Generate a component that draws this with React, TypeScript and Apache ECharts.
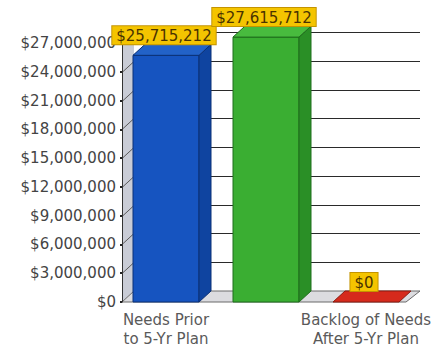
import React, { useEffect, useRef } from 'react';
import * as echarts from 'echarts';

const categories = ['Needs Prior\nto 5-Yr Plan', '', 'Backlog of Needs\nAfter 5-Yr Plan'];
const values = [25715212, 27615712, 0];
const yTicks = [0, 3000000, 6000000, 9000000, 12000000, 15000000, 18000000, 21000000, 24000000, 27000000];

const frontColors = ['#1654c0', '#3aae32', '#d62a1c'];
const topColors = ['#2262c8', '#48bb3e', '#d62a1c'];
const sideColors = ['#0f44a0', '#2a8f26', '#b0200f'];
const edgeColors = ['#0b3076', '#1f6e1c', '#8a1a10'];

const DX = 12;
const DY = -11;
const FONT = '"DejaVu Sans", Verdana, sans-serif';

const fmt = (v: number) => '$' + String(Math.round(v)).replace(/\B(?=(\d{3})+(?!\d))/g, ',');

export default function App() {
  const ref = useRef<HTMLDivElement>(null);
  useEffect(() => {
    if (!ref.current) return;
    const chart = echarts.init(ref.current, undefined, { renderer: 'svg' });

    const renderFrame = (params: any, api: any) => {
      const cs = params.coordSys;
      const left = cs.x + 6;
      const bottom = cs.y + cs.height;
      const right = cs.x + cs.width - 10;
      const topY = api.coord([0, yTicks[yTicks.length - 1]])[1];
      const children: any[] = [];
      children.push({
        type: 'polygon',
        shape: { points: [[left, bottom], [left + DX, bottom + DY], [left + DX, topY + DY], [left, topY]] },
        style: { fill: '#c9ccd6' },
      });
      children.push({
        type: 'polygon',
        shape: { points: [[left, bottom], [left + DX, bottom + DY], [right + DX + 2, bottom + DY], [right, bottom]] },
        style: { fill: '#dcdce0', stroke: '#6a6a6a', lineWidth: 1 },
      });
      yTicks.forEach((v) => {
        if (v === 0) return;
        const y = Math.round(api.coord([0, v])[1]) + 0.5;
        children.push({
          type: 'line',
          shape: { x1: left + DX, y1: y + DY, x2: right + DX + 2, y2: y + DY },
          style: { stroke: '#2a2a2a', lineWidth: 1 },
        });
        children.push({
          type: 'line',
          shape: { x1: left, y1: y, x2: left + DX, y2: y + DY },
          style: { stroke: '#5a5a5a', lineWidth: 1 },
        });
      });
      return { type: 'group', children };
    };

    const renderBar = (params: any, api: any) => {
      const i = params.dataIndex;
      const cat = api.value(0);
      const val = api.value(1);
      const [cx, yTop] = api.coord([cat, val]);
      const yBase = api.coord([cat, 0])[1];
      const half = 33;
      const x1 = cx - half;
      const x2 = cx + half;
      const children: any[] = [];
      if (yBase - yTop > 0.5) {
        children.push({
          type: 'rect',
          shape: { x: x1, y: yTop, width: x2 - x1, height: yBase - yTop },
          style: { fill: frontColors[i], stroke: edgeColors[i], lineWidth: 1 },
        });
        children.push({
          type: 'polygon',
          shape: { points: [[x2, yTop], [x2 + DX, yTop + DY], [x2 + DX, yBase + DY], [x2, yBase]] },
          style: { fill: sideColors[i], stroke: edgeColors[i], lineWidth: 1 },
        });
      }
      children.push({
        type: 'polygon',
        shape: { points: [[x1, yTop], [x1 + DX, yTop + DY], [x2 + DX, yTop + DY], [x2, yTop]] },
        style: { fill: topColors[i], stroke: edgeColors[i], lineWidth: 1 },
      });
      children.push({
        type: 'text',
        x: cx - 2,
        y: yTop + DY,
        style: {
          text: fmt(val),
          fontSize: 15,
          fontFamily: FONT,
          fill: '#4a3300',
          align: 'center',
          verticalAlign: 'bottom',
          backgroundColor: '#f4c400',
          borderColor: '#c49400',
          borderWidth: 1,
          padding: [2, 4, 1, 4],
        },
      });
      return { type: 'group', children };
    };

    chart.setOption({
      animation: false,
      backgroundColor: '#ffffff',
      grid: { left: 116, top: 43, width: 300, height: 259, containLabel: false },
      xAxis: {
        type: 'category',
        data: categories,
        axisLine: { show: false },
        axisTick: { show: false },
        axisLabel: {
          interval: 0,
          fontSize: 15,
          lineHeight: 19,
          fontFamily: FONT,
          color: '#5a5a5a',
          margin: 8,
        },
      },
      yAxis: {
        type: 'value',
        min: 0,
        max: 27000000,
        interval: 3000000,
        offset: -6,
        z: 1,
        axisLine: { show: true, lineStyle: { color: '#333333', width: 1 } },
        axisTick: { show: true, length: 2, lineStyle: { color: '#222222', width: 2 } },
        splitLine: { show: false },
        axisLabel: {
          fontSize: 15,
          fontFamily: FONT,
          color: '#444444',
          margin: 6,
          formatter: (v: number) => fmt(v),
        },
      },
      series: [
        {
          type: 'custom',
          z: 0,
          clip: false,
          silent: true,
          renderItem: renderFrame,
          data: [[0, 0]],
        },
        {
          type: 'custom',
          z: 2,
          clip: false,
          renderItem: renderBar,
          encode: { x: 0, y: 1 },
          data: values.map((v, i) => [i, v]),
        },
      ],
    });
    return () => chart.dispose();
  }, []);
  return (
    <div
      ref={ref}
      style={{ position: 'absolute', left: 0, top: 0, width: 448, height: 351, background: '#fff' }}
    />
  );
}
